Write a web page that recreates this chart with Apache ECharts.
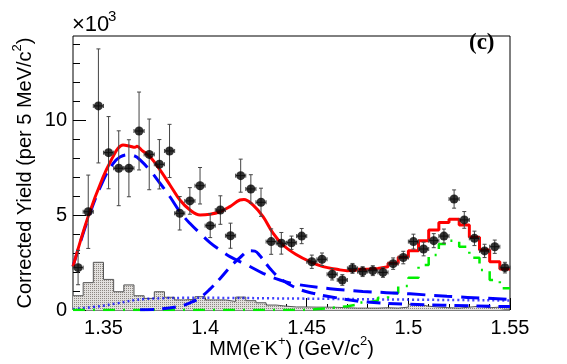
<!DOCTYPE html>
<html>
<head>
<meta charset="utf-8">
<script src="https://cdn.jsdelivr.net/npm/echarts@6/dist/echarts.min.js"></script>
<style>
html, body { margin: 0; padding: 0; background: #fff; }
#chart { width: 567px; height: 364px; }
</style>
</head>
<body>
<div id="chart"></div>
<script>
// MM(e-K+) bins, 5 MeV wide, yields in units of 10^3
var binCenters = [1.3375, 1.3425, 1.3475, 1.3525, 1.3575, 1.3625, 1.3675, 1.3725, 1.3775, 1.3825,
    1.3875, 1.3925, 1.3975, 1.4025, 1.4075, 1.4125, 1.4175, 1.4225, 1.4275, 1.4325,
    1.4375, 1.4425, 1.4475, 1.4525, 1.4575, 1.4625, 1.4675, 1.4725, 1.4775, 1.4825,
    1.4875, 1.4925, 1.4975, 1.5025, 1.5075, 1.5125, 1.5175, 1.5225, 1.5275, 1.5325,
    1.5375, 1.5425, 1.5475];
var binHalfWidth = 0.0025;

var yields = [2.23, 5.17, 10.74, 8.28, 7.46, 7.46, 9.42, 8.19, 7.67, 8.37,
    5.09, 5.74, 6.54, 4.44, 5.26, 3.91, 7.07, 6.37, 5.67, 3.60,
    3.51, 3.54, 3.89, 2.54, 2.67, 1.88, 1.58, 2.19, 2.02, 2.07,
    1.98, 2.44, 2.76, 3.60, 3.21, 3.65, 3.89, 5.84, 4.74, 3.77,
    3.11, 3.33, 2.23];
var yieldErrors = [0.9, 1.93, 3.0, 1.9, 1.97, 1.5, 2.05, 1.86, 1.3, 1.4,
    0.88, 0.7, 0.96, 0.63, 0.75, 0.66, 0.87, 0.75, 0.74, 0.67,
    0.57, 0.35, 0.4, 0.35, 0.33, 0.3, 0.28, 0.26, 0.26, 0.26,
    0.26, 0.3, 0.33, 0.39, 0.36, 0.37, 0.37, 0.48, 0.44, 0.38,
    0.35, 0.35, 0.28];

// grey hatched background histogram
var histValues = [0.75, 1.44, 2.51, 1.61, 0.96, 1.32, 0.75, 0.61, 0.96, 0.67,
    0.53, 0.56, 0.7, 0.53, 0.53, 0.45, 0.68, 0.49, 0.38, 0.26,
    0.2, 0.16, 0.16, 0.15, 0.15, 0.14, 0.12, 0.1, 0.1, 0.1,
    0.12, 0.1, 0.15, 0.3, 0.2, 0.15, 0.12, 0.1, 0.15, 0.2,
    0.12, 0.15, 0.1];

// green Lambda(1520) template (step)
var greenValues = [0, 0, 0, 0, 0, 0, 0, 0, 0, 0,
    0, 0, 0, 0, 0, 0, 0, 0, 0, 0,
    0, 0, 0, 0.05, 0.08, 0.15, 0.2, 0.28, 0.4, 0.5,
    0.65, 0.9, 1.26, 1.7, 2.37, 2.9, 3.47, 3.65, 3.33, 2.75,
    2.1, 1.58, 1.14];

// red total fit: smooth part, then step part from bin 28
var redSmoothX = [1.3350, 1.3424, 1.3498, 1.3547, 1.3571, 1.3596, 1.3630, 1.3655, 1.3665, 1.3689,
    1.3729, 1.3778, 1.3827, 1.3876, 1.3926, 1.3975, 1.4024, 1.4073, 1.4122, 1.4171,
    1.4191, 1.4235, 1.4285, 1.4334, 1.4383, 1.4452, 1.4516, 1.4580, 1.4649, 1.4698, 1.4750];
var redSmoothY = [2.28, 4.9, 7.0, 8.07, 8.5, 8.68, 8.62, 8.56, 8.62, 8.4,
    8.07, 7.37, 6.58, 5.79, 5.26, 5.0, 5.04, 5.17, 5.44, 5.79,
    5.82, 5.53, 4.91, 4.04, 3.42, 2.89, 2.54, 2.28, 2.14, 2.07, 2.1];
var redStepStart = 28;
var redStepValues = [2.14, 2.19, 2.28, 2.46, 2.77, 3.12, 3.65, 4.21, 4.6, 4.77,
    4.47, 3.83, 3.16, 2.54, 2.16];

// blue long dashed: Sigma(1385)
var sigmaX = [1.3350, 1.3424, 1.3498, 1.3547, 1.3581, 1.3621, 1.3655, 1.3680, 1.3729, 1.3778,
    1.3827, 1.3876, 1.3926, 1.3975, 1.4024, 1.4073, 1.4122, 1.4206, 1.4285, 1.4368,
    1.4452, 1.4614, 1.4776, 1.5008, 1.5190, 1.5500];
var sigmaY = [2.3, 4.8, 6.8, 7.7, 8.05, 8.17, 8.1, 7.9, 7.35, 6.67,
    5.96, 5.17, 4.55, 4.04, 3.55, 3.16, 2.81, 2.37, 1.93, 1.58,
    1.35, 1.12, 0.98, 0.85, 0.72, 0.56];

// blue dashed: Lambda(1405)
var lambdaX = [1.3680, 1.3778, 1.3876, 1.3926, 1.3975, 1.4024, 1.4073, 1.4122, 1.4171, 1.4221,
    1.4245, 1.4270, 1.4319, 1.4368, 1.4452, 1.4531, 1.4614, 1.4776, 1.5008, 1.5500];
var lambdaY = [0.01, 0.05, 0.2, 0.38, 0.65, 1.1, 1.65, 2.25, 2.75, 3.12,
    3.1, 2.85, 2.19, 1.67, 1.14, 0.88, 0.7, 0.44, 0.3, 0.18];

// blue dotted: smooth background
var bgX = [1.3350, 1.3483, 1.3566, 1.3704, 1.3975, 1.4467, 1.4959, 1.5500];
var bgY = [0.05, 0.2, 0.35, 0.58, 0.64, 0.6, 0.55, 0.5];

var xTicks = [1.35, 1.4, 1.45, 1.5, 1.55];
var yTicks = [0, 5, 10];

function pairs(xs, ys) {
    var out = [];
    for (var i = 0; i < xs.length; i++) out.push([xs[i], ys[i]]);
    return out;
}

// histogram edges for step:'end'
function stepData(values, first) {
    var out = [];
    for (var i = 0; i < values.length; i++) {
        out.push([binCenters[first + i] - binHalfWidth, values[i]]);
    }
    out.push([binCenters[first + values.length - 1] + binHalfWidth, values[values.length - 1]]);
    return out;
}

var xMinor = [], yMinor = [];
for (var t = 134; t <= 155; t++) xMinor.push(t / 100);
for (var k = 0; k <= 14; k++) yMinor.push(k);

// hatch pattern for grey histogram
var pat = document.createElement('canvas');
pat.width = 4; pat.height = 4;
var pctx = pat.getContext('2d');
pctx.fillStyle = '#e2e0de';
pctx.fillRect(0, 0, 4, 4);
pctx.fillStyle = '#8e8882';
pctx.fillRect(0, 0, 1, 1);
pctx.fillRect(2, 2, 1, 1);
pctx.fillRect(2, 0, 1, 1);
pctx.fillRect(0, 2, 1, 1);

var errData = [], pointData = [];
for (var i = 0; i < binCenters.length; i++) {
    errData.push([binCenters[i], yields[i], yieldErrors[i]]);
    pointData.push([binCenters[i], yields[i]]);
}

function renderErr(params, api) {
    var x = api.value(0), y = api.value(1), e = api.value(2);
    var c = api.coord([x, y]);
    var top = api.coord([x, y + e]);
    var bot = api.coord([x, y - e]);
    var l = api.coord([x - binHalfWidth, y]);
    var r = api.coord([x + binHalfWidth, y]);
    var st = { stroke: '#444', lineWidth: 1 };
    var cap = 2;
    return {
        type: 'group',
        children: [
            { type: 'line', shape: { x1: c[0], y1: top[1], x2: c[0], y2: bot[1] }, style: st },
            { type: 'line', shape: { x1: c[0] - cap, y1: top[1], x2: c[0] + cap, y2: top[1] }, style: st },
            { type: 'line', shape: { x1: c[0] - cap, y1: bot[1], x2: c[0] + cap, y2: bot[1] }, style: st },
            { type: 'line', shape: { x1: l[0], y1: c[1], x2: r[0], y2: c[1] }, style: st },
            { type: 'line', shape: { x1: l[0], y1: c[1] - cap, x2: l[0], y2: c[1] + cap }, style: st },
            { type: 'line', shape: { x1: r[0], y1: c[1] - cap, x2: r[0], y2: c[1] + cap }, style: st }
        ]
    };
}

var font = 'Liberation Sans';
var myChart = echarts.init(document.getElementById('chart'));

var option = {
    animation: false,
    backgroundColor: '#fff',
    textStyle: { fontFamily: font },
    grid: {
        left: 73, top: 36, width: 437, height: 274,
        outerBoundsMode: 'none', containLabel: false,
        show: true, borderColor: '#000', borderWidth: 1, backgroundColor: 'transparent'
    },
    xAxis: [
        {
            type: 'value', min: 1.335, max: 1.55,
            axisLine: { show: false },
            splitLine: { show: false },
            axisTick: { inside: true, length: 12, customValues: xTicks, lineStyle: { color: '#000' } },
            axisLabel: { customValues: xTicks, color: '#000', fontSize: 20, fontFamily: font, margin: 8 },
            name: '{t|MM(e}{s|-}{t|K}{s|+}{t|) (GeV/c}{s|2}{t|)}',
            nameLocation: 'middle', nameGap: 25, nameMoveOverlap: false,
            nameTextStyle: {
                rich: {
                    t: { fontSize: 20, fontFamily: font, color: '#000', verticalAlign: 'bottom', lineHeight: 24 },
                    s: { fontSize: 13, fontFamily: font, color: '#000', verticalAlign: 'top', lineHeight: 24, padding: [0, 0, 10, 0] }
                }
            }
        },
        {
            type: 'value', min: 1.335, max: 1.55, position: 'bottom',
            axisLine: { show: false },
            splitLine: { show: false },
            axisTick: { inside: true, length: 6, customValues: xMinor, lineStyle: { color: '#000' } },
            axisLabel: { show: false, customValues: xMinor }
        }
    ],
    yAxis: [
        {
            type: 'value', min: 0, max: 14.42,
            axisLine: { show: false },
            splitLine: { show: false },
            axisTick: { inside: true, length: 13, customValues: yTicks, lineStyle: { color: '#000' } },
            axisLabel: { customValues: yTicks, color: '#000', fontSize: 20, fontFamily: font, margin: 6 },
            name: '{t|Corrected Yield (per 5 MeV/c}{s|2}{t|)}',
            nameLocation: 'middle', nameGap: 38, nameRotate: 90, nameMoveOverlap: false,
            nameTextStyle: {
                rich: {
                    t: { fontSize: 20, fontFamily: font, color: '#000', verticalAlign: 'bottom', lineHeight: 24 },
                    s: { fontSize: 13, fontFamily: font, color: '#000', verticalAlign: 'top', lineHeight: 24, padding: [0, 0, 10, 0] }
                }
            }
        },
        {
            type: 'value', min: 0, max: 14.42, position: 'left',
            axisLine: { show: false },
            splitLine: { show: false },
            axisTick: { inside: true, length: 7, customValues: yMinor, lineStyle: { color: '#000' } },
            axisLabel: { show: false, customValues: yMinor }
        }
    ],
    graphic: [
        {
            type: 'text', left: 72, top: 14,
            style: { text: '×10', fontSize: 22, fontFamily: font, fill: '#000' }
        },
        {
            type: 'text', left: 108, top: 9,
            style: { text: '3', fontSize: 15, fontFamily: font, fill: '#000' }
        },
        {
            type: 'text', left: 469, top: 32,
            style: { text: '(c)', fontSize: 23, fontWeight: 'bold', fontFamily: 'Liberation Serif', fill: '#000' }
        }
    ],
    series: [
        {
            name: 'hist', type: 'line', step: 'end', symbol: 'none',
            data: stepData(histValues, 0),
            lineStyle: { color: '#555', width: 1 },
            areaStyle: { color: { image: pat, repeat: 'repeat' }, opacity: 1 },
            z: 1
        },
        {
            name: 'bg', type: 'line', symbol: 'none', smooth: 0.4,
            data: pairs(bgX, bgY),
            lineStyle: { color: '#0000ff', width: 2.5, type: [2, 3], opacity: 0.75 },
            z: 2
        },
        {
            name: 'green', type: 'line', step: 'end', symbol: 'none',
            data: stepData(greenValues, 0),
            lineStyle: { color: '#00ee00', width: 2.5, type: [12, 8, 2, 8] },
            z: 3
        },
        {
            name: 'lambda', type: 'line', symbol: 'none', smooth: 0.4,
            data: pairs(lambdaX, lambdaY),
            lineStyle: { color: '#0000ff', width: 3, type: [14, 8] },
            z: 4
        },
        {
            name: 'sigma', type: 'line', symbol: 'none', smooth: 0.4,
            data: pairs(sigmaX, sigmaY),
            lineStyle: { color: '#0000ff', width: 3, type: [18, 9] },
            z: 4
        },
        {
            name: 'total', type: 'line', symbol: 'none', smooth: 0.4,
            data: pairs(redSmoothX, redSmoothY),
            lineStyle: { color: '#ff0000', width: 3 },
            z: 5
        },
        {
            name: 'totalStep', type: 'line', step: 'end', symbol: 'none',
            data: stepData(redStepValues, redStepStart),
            lineStyle: { color: '#ff0000', width: 3 },
            z: 5
        },
        {
            name: 'err', type: 'custom', renderItem: renderErr,
            data: errData, encode: { x: 0, y: 1 },
            z: 6
        },
        {
            name: 'data', type: 'scatter', symbol: 'circle', symbolSize: 9,
            data: pointData,
            itemStyle: { color: '#000' },
            z: 7
        }
    ]
};

myChart.setOption(option);
</script>
</body>
</html>
